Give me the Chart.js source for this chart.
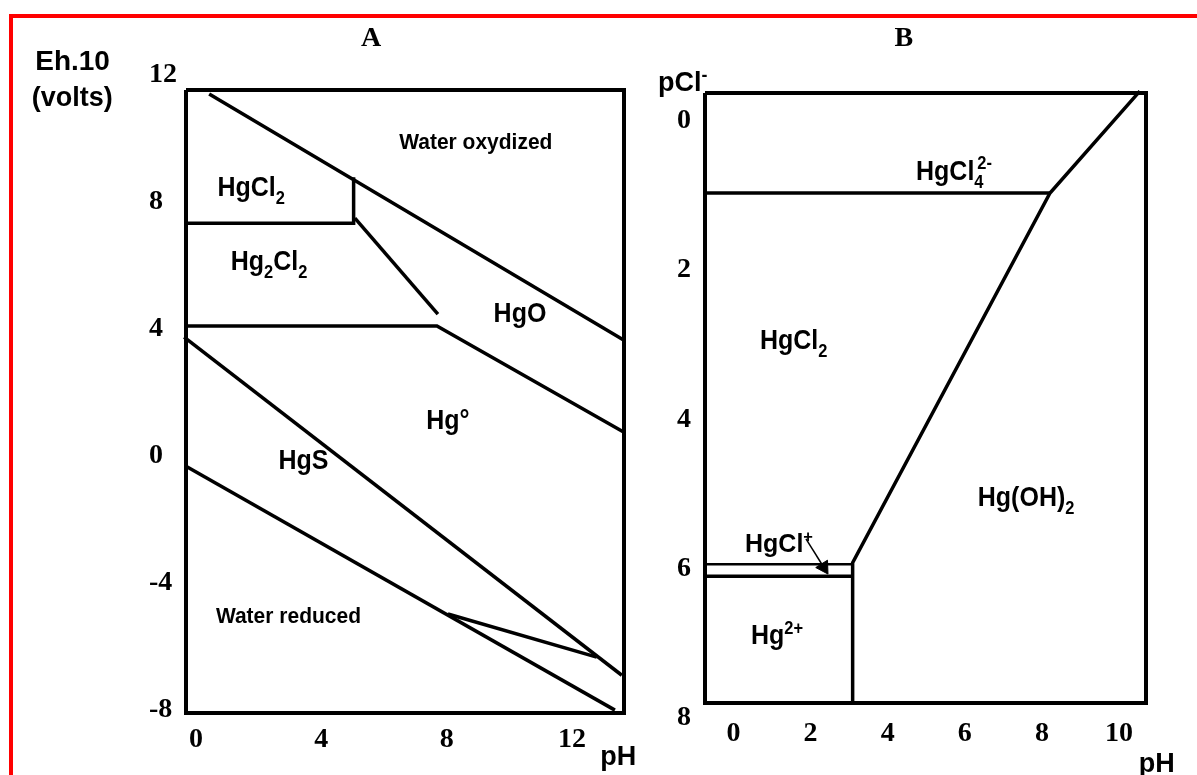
<!DOCTYPE html>
<html>
<head>
<meta charset="utf-8">
<title>Hg stability diagrams</title>
<script src="https://cdn.jsdelivr.net/npm/chart.js@4.4.1/dist/chart.umd.min.js"></script>
<style>
  html, body { margin: 0; padding: 0; overflow: hidden; background: #fff; }
  body { width: 1197px; height: 775px; position: relative; }
  .frame { position: absolute; left: 9px; top: 14px; right: 0; bottom: 0;
           border-top: 4px solid #ff0000; border-left: 4px solid #ff0000; }
  canvas { position: absolute; top: 0; }
  #chartA { left: 0; }
  #chartB { left: 640px; }
</style>
</head>
<body>
<div class="frame"></div>
<canvas id="chartA" width="660" height="775"></canvas>
<canvas id="chartB" width="557" height="775"></canvas>
<script>
// ---- panel A : Eh.10 (volts) vs pH ----
const phTicksA = [0, 4, 8, 12];
const ehTicks = [12, 8, 4, 0, -4, -8];

const frameA_pH = [-0.32, 13.66, 13.66, -0.32, -0.32];
const frameA_Eh = [11.53, 11.53, -8.11, -8.11, 11.53];
const waterOx_pH = [0.42, 13.66];
const waterOx_Eh = [11.40, 3.64];
const hgcl2Edge_pH = [-0.32, 5.03, 5.03];
const hgcl2Edge_Eh = [7.33, 7.33, 8.78];
const hg2cl2HgO_pH = [5.07, 7.72];
const hg2cl2HgO_Eh = [7.49, 4.46];
const hgMetal_pH = [-0.32, 7.69, 13.66];
const hgMetal_Eh = [4.09, 4.09, 0.74];
const hgS_pH = [-0.38, 13.59];
const hgS_Eh = [3.74, -6.92];
const waterRed_pH = [-0.32, 13.37];
const waterRed_Eh = [-0.33, -8.02];
const hgSLow_pH = [8.04, 12.79];
const hgSLow_Eh = [-4.99, -6.35];

// ---- panel B : pCl- vs pH ----
const phTicksB = [0, 2, 4, 6, 8, 10];
const pclTicks = [0, 2, 4, 6, 8];

const frameB_pH = [-0.74, 10.70, 10.70, -0.74, -0.74];
const frameB_pCl = [-0.375, -0.375, 7.80, 7.80, -0.375];
const hgcl4Edge_pH = [-0.74, 8.21];
const hgcl4Edge_pCl = [0.965, 0.965];
const hydroxEdge_pH = [10.54, 8.21, 3.09, 3.09];
const hydroxEdge_pCl = [-0.40, 0.965, 5.92, 7.80];
const hgclTop_pH = [-0.74, 3.09];
const hgclTop_pCl = [5.94, 5.94];
const hgclBottom_pH = [-0.74, 3.09];
const hgclBottom_pCl = [6.10, 6.10];
const arrow_pH = [1.88, 2.34];
const arrow_pCl = [5.60, 5.98];

const SANS = '"Liberation Sans", Arial, sans-serif';
const SERIF = '"Liberation Serif", "Times New Roman", serif';

// text marks, placed in each panel's own data units
const textA = [
  { parts: [['A']], x: 5.59, y: 13.21, size: 28, serif: true },
  { parts: [['Eh.10']], x: -3.94, y: 12.47, size: 28 },
  { parts: [['(volts)']], x: -3.95, y: 11.32, size: 27 },
  { parts: [['pH']], x: 13.48, y: -9.44, size: 27 },
  { parts: [['HgCl'], ['2', 'sub']], x: 1.76, y: 8.51, size: 25, sy: 1.12 },
  { parts: [['Hg'], ['2', 'sub'], ['Cl'], ['2', 'sub']], x: 2.33, y: 6.18, size: 25, sy: 1.12 },
  { parts: [['Water oxydized']], x: 8.93, y: 9.93, size: 21, sy: 1.05 },
  { parts: [['HgO']], x: 10.34, y: 4.54, size: 25, sy: 1.12 },
  { parts: [['Hg°']], x: 8.04, y: 1.16, size: 25, sy: 1.12 },
  { parts: [['HgS']], x: 3.43, y: -0.10, size: 25, sy: 1.12 },
  { parts: [['Water reduced']], x: 2.95, y: -5.03, size: 21, sy: 1.05 },
];

const textB = [
  { parts: [['B']], x: 4.42, y: -1.13, size: 28, serif: true },
  { parts: [['pCl'], ['-', 'sup']], x: -1.32, y: -0.527, size: 27 },
  { parts: [['pH']], x: 10.98, y: 8.59, size: 27 },
  { parts: [['HgCl'], ['4', 'sub'], ['2-', 'sup', true]], x: 5.72, y: 0.653, size: 25, sy: 1.12 },
  { parts: [['HgCl'], ['2', 'sub']], x: 1.56, y: 2.92, size: 25, sy: 1.12 },
  { parts: [['Hg(OH)'], ['2', 'sub']], x: 7.59, y: 5.03, size: 25, sy: 1.12 },
  { parts: [['HgCl'], ['+', 'sup']], x: 1.18, y: 5.65, size: 25, sy: 1.05 },
  { parts: [['Hg'], ['2+', 'sup']], x: 1.13, y: 6.88, size: 25, sy: 1.12 },
];

function pts(xs, ys) {
  return xs.map((x, i) => ({ x, y: ys[i] }));
}

function line(xs, ys, width) {
  return {
    data: pts(xs, ys),
    showLine: true,
    borderColor: "#000",
    borderWidth: width || 3.5,
    borderJoinStyle: "miter",
    pointRadius: 0,
    tension: 0,
    fill: false,
    clip: false,
  };
}

function textPlugin(items) {
  return {
    id: "textMarks",
    afterDatasetsDraw(chart) {
      const { ctx, scales } = chart;
      ctx.fillStyle = "#000";
      items.forEach((it) => {
        const fam = it.serif ? SERIF : SANS;
        const sy = it.sy || 1;
        let prevStart = 0;
        let end = 0;
        const placed = it.parts.map(([t, mode, stack]) => {
          const s = mode ? it.size * 0.66 : it.size;
          ctx.font = `bold ${s}px ${fam}`;
          const w = ctx.measureText(t).width;
          const start = stack ? prevStart + it.size * 0.12 : end;
          prevStart = start;
          end = Math.max(end, start + w);
          const dy = mode === "sub" ? it.size * 0.28 : mode === "sup" ? -it.size * 0.38 : 0;
          return { t, s, start, dy };
        });
        const px = scales.x.getPixelForValue(it.x) - end / 2;
        const py = scales.y.getPixelForValue(it.y) + it.size * sy * (it.serif ? 0.33 : 0.36);
        ctx.save();
        ctx.translate(px, py);
        ctx.scale(1, sy);
        ctx.textAlign = "left";
        ctx.textBaseline = "alphabetic";
        placed.forEach((p) => {
          ctx.font = `bold ${p.s}px ${fam}`;
          ctx.fillText(p.t, p.start, p.dy);
        });
        ctx.restore();
      });
    },
  };
}

function axis(min, max, ticks, tickOpts, extra) {
  return Object.assign({
    type: "linear",
    min,
    max,
    grid: { display: false, drawTicks: false },
    border: { display: false },
    ticks: Object.assign({
      color: "#000",
      autoSkip: false,
      maxRotation: 0,
      font: { family: SERIF, size: 28, weight: "bold", lineHeight: 1 },
      callback: (v) => String(v),
    }, tickOpts),
    afterBuildTicks: (scale) => {
      scale.ticks = ticks.map((v) => ({ value: v }));
    },
  }, extra);
}

const baseOptions = {
  responsive: false,
  animation: false,
  events: [],
  plugins: { legend: { display: false }, tooltip: { enabled: false } },
};

new Chart(document.getElementById("chartA"), {
  type: "scatter",
  data: {
    datasets: [
      line(frameA_pH, frameA_Eh, 4),
      line(waterOx_pH, waterOx_Eh),
      line(hgcl2Edge_pH, hgcl2Edge_Eh),
      line(hg2cl2HgO_pH, hg2cl2HgO_Eh),
      line(hgMetal_pH, hgMetal_Eh),
      line(hgS_pH, hgS_Eh),
      line(waterRed_pH, waterRed_Eh),
      line(hgSLow_pH, hgSLow_Eh),
    ],
  },
  options: Object.assign({}, baseOptions, {
    layout: { padding: { left: 149, right: 36, top: 75, bottom: 22 } },
    scales: {
      x: axis(-0.32, 13.66, phTicksA, { padding: 13 }, {
        afterFit: (s) => { s.height = 40; },
      }),
      y: axis(-8.11, 12, ehTicks, { crossAlign: "far" }, {
        afterFit: (s) => { s.width = 37; },
      }),
    },
  }),
  plugins: [textPlugin(textA)],
});

const arrow = line(arrow_pH, arrow_pCl, 1.5);
arrow.pointRadius = [0, 8];
arrow.pointStyle = "triangle";
arrow.pointRotation = 148;
arrow.pointBackgroundColor = "#000";
arrow.pointBorderColor = "#000";
arrow.pointBorderWidth = 1;

new Chart(document.getElementById("chartB"), {
  type: "scatter",
  data: {
    datasets: [
      line(frameB_pH, frameB_pCl, 4),
      line(hgcl4Edge_pH, hgcl4Edge_pCl),
      line(hydroxEdge_pH, hydroxEdge_pCl),
      line(hgclTop_pH, hgclTop_pCl, 2.5),
      line(hgclBottom_pH, hgclBottom_pCl, 3.5),
      arrow,
    ],
  },
  options: Object.assign({}, baseOptions, {
    layout: { padding: { left: 37, right: 51, top: 93, bottom: 17 } },
    scales: {
      x: axis(-0.74, 10.70, phTicksB, { padding: 2 }, {
        afterFit: (s) => { s.height = 40; },
      }),
      y: axis(-0.375, 8, pclTicks, { crossAlign: "far" }, {
        reverse: true,
        afterFit: (s) => { s.width = 28; },
      }),
    },
  }),
  plugins: [textPlugin(textB)],
});
</script>
</body>
</html>
